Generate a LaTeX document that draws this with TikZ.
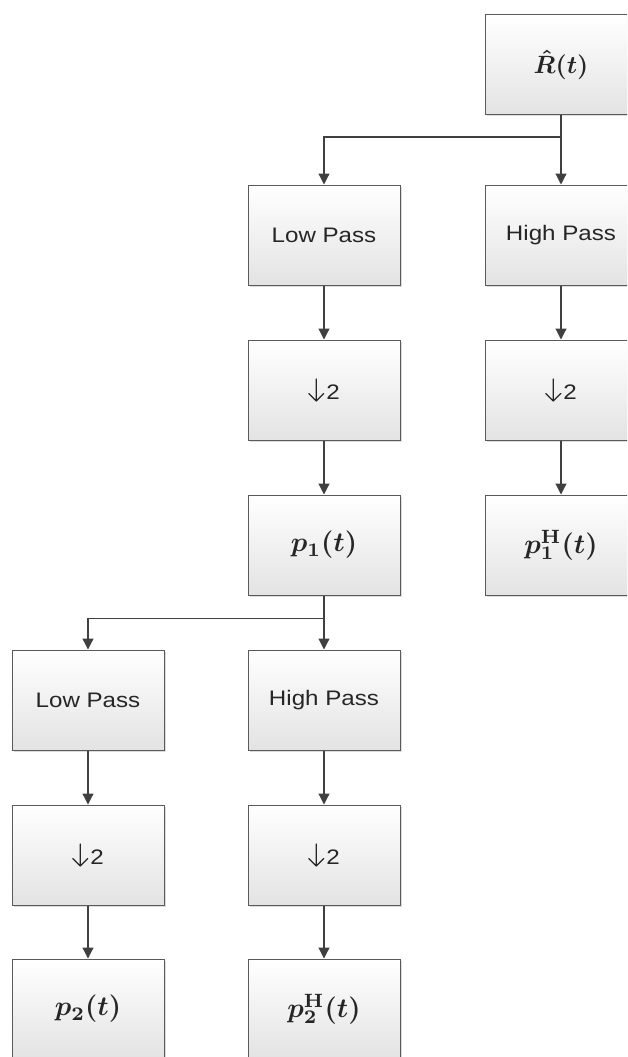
\documentclass[tikz,border=0pt]{standalone}
\usepackage{amsmath,bm,graphicx}
\usepackage[no-math]{fontspec}
\newfontfamily\boxfont[FakeStretch=1.15]{Liberation Sans}
\usetikzlibrary{arrows.meta,shadows}
\definecolor{edgegray}{HTML}{5A5A5A}
\definecolor{arrgray}{HTML}{404040}
\definecolor{txtgray}{HTML}{262626}
\tikzset{
  box/.style={draw=edgegray, line width=1pt, minimum width=152pt, minimum height=100pt,
    inner sep=0pt, top color=white, bottom color=black!11, text=txtgray,
    drop shadow={shadow xshift=1.5pt, shadow yshift=-1.5pt, fill=black!30, opacity=0.45},
    font=\boxfont\fontsize{21}{25}\selectfont},
  arr/.style={draw=arrgray, line width=1.2pt, -{Triangle[length=11pt,width=11pt]}}
}
\newcommand{\dnglyph}{\tikz[x=1pt,y=1pt,baseline=0pt,line width=1.3pt,line cap=round,line join=round]
  \draw[txtgray] (0,-2)--(0,20) (-7.5,5.5)--(0,-2)--(7.5,5.5);}
\newcommand{\dntwo}{\dnglyph\kern2pt 2}
\newcommand{\mylbl}[2]{\scalebox{#1}{\fontsize{10}{12}\selectfont$#2$}}
\begin{document}
\begin{tikzpicture}[x=1pt,y=-1pt]
\useasboundingbox (0,0) rectangle (627,1057);
\clip (0,0) rectangle (627,1057);
\node[box] (R)   at (561,64.5) {\mylbl{2.5}{\bm{\hat{R}(t)}}};
\node[box] (LP1) at (324,235) {Low Pass};
\node[box] (HP1) at (561,235) {High Pass};
\node[box] (D1)  at (324,390) {\dntwo};
\node[box] (D1h) at (561,390) {\dntwo};
\node[box] (P1)  at (324,545) {\mylbl{2.75}{\bm{p_{1}(t)}}};
\node[box] (P1h) at (561,545) {\mylbl{2.75}{\bm{p^{\mathbf{H}}_{1}(t)}}};
\node[box] (LP2) at (88,700) {Low Pass};
\node[box] (HP2) at (324,700) {High Pass};
\node[box] (D2)  at (88,855) {\dntwo};
\node[box] (D2h) at (324,855) {\dntwo};
\node[box] (P2)  at (88,1009) {\mylbl{2.75}{\bm{p_{2}(t)}}};
\node[box] (P2h) at (324,1009) {\mylbl{2.75}{\bm{p^{\mathbf{H}}_{2}(t)}}};
% connectors
\draw[arr] (R.south) -- (HP1.north);
\draw[arr] (R.south) -- ++(0,22) -| (LP1.north);
\draw[arr] (LP1) -- (D1);
\draw[arr] (HP1) -- (D1h);
\draw[arr] (D1) -- (P1);
\draw[arr] (D1h) -- (P1h);
\draw[arr] (P1.south) -- (HP2.north);
\draw[arr] (P1.south) -- ++(0,23) -| (LP2.north);
\draw[arr] (LP2) -- (D2);
\draw[arr] (HP2) -- (D2h);
\draw[arr] (D2) -- (P2);
\draw[arr] (D2h) -- (P2h);
\end{tikzpicture}
\end{document}
